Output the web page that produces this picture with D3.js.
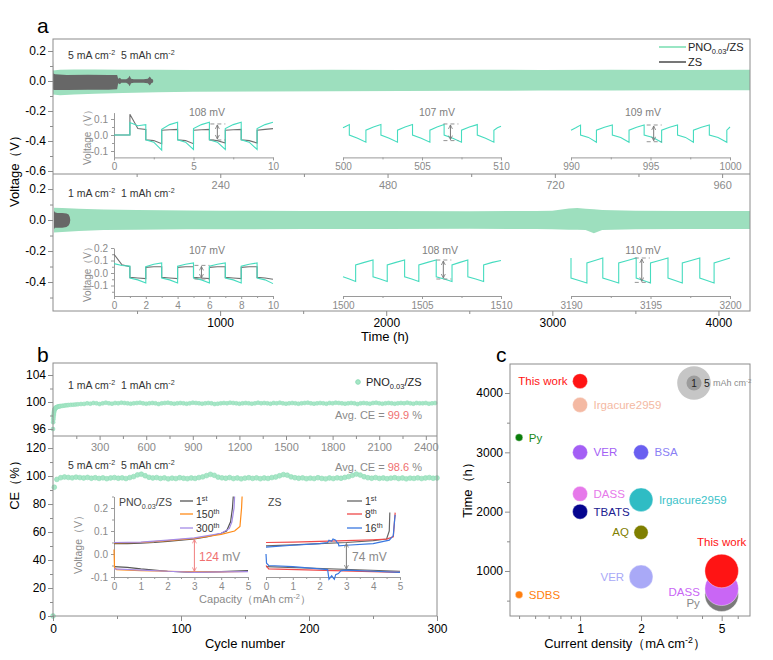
<!DOCTYPE html>
<html>
<head>
<meta charset="utf-8">
<script src="https://cdn.jsdelivr.net/npm/d3@7"></script>
<style>
  body { margin: 0; background: #fff; }
  svg text { font-family: "Liberation Sans", Arial, sans-serif; white-space: pre; }
</style>
</head>
<body>
<script>
// ---------- panel a : long cycling envelopes (time h, upper V, lower V) ----------
const aTopT  = [0, 10, 30, 60, 100, 150, 200, 300, 400, 500, 600, 700, 800, 900, 1000];
const aTopHi = [0.07, 0.075, 0.077, 0.076, 0.075, 0.075, 0.074, 0.074, 0.075, 0.074, 0.075, 0.074, 0.075, 0.074, 0.075];
const aTopLo = [-0.09, -0.095, -0.09, -0.085, -0.08, -0.075, -0.072, -0.07, -0.068, -0.066, -0.065, -0.064, -0.063, -0.062, -0.062];
const zsTopT  = [0, 0.5, 3, 20, 50, 80, 92, 93.5, 96, 98, 100, 105, 108, 110, 112, 116, 130, 136, 139, 141, 143, 144];
const zsTopHi = [0.14, 0.05, 0.045, 0.04, 0.042, 0.04, 0.04, 0.015, 0.022, 0.012, 0.012, 0.012, 0.02, 0.035, 0.015, 0.012, 0.012, 0.015, 0.03, 0.015, 0.012, 0];
const zsTopLo = [-0.05, -0.06, -0.06, -0.06, -0.058, -0.058, -0.055, -0.015, -0.022, -0.012, -0.012, -0.012, -0.02, -0.035, -0.015, -0.012, -0.012, -0.015, -0.03, -0.015, -0.012, 0];

const aBotT  = [0, 50, 150, 300, 500, 800, 1000, 1500, 2000, 2500, 2900, 3000, 3100, 3150, 3200, 3250, 3300, 3500, 3800, 4190];
const aBotHi = [0.08, 0.078, 0.072, 0.068, 0.065, 0.062, 0.06, 0.058, 0.058, 0.057, 0.058, 0.06, 0.075, 0.077, 0.072, 0.07, 0.065, 0.06, 0.058, 0.058];
const aBotLo = [-0.08, -0.078, -0.07, -0.065, -0.063, -0.06, -0.06, -0.058, -0.058, -0.057, -0.058, -0.06, -0.062, -0.062, -0.065, -0.085, -0.065, -0.06, -0.058, -0.058];
const zsBotT  = [0, 5, 20, 50, 75, 88, 95, 98];
const zsBotHi = [0.06, 0.05, 0.045, 0.045, 0.042, 0.035, 0.02, 0];
const zsBotLo = [-0.06, -0.05, -0.05, -0.05, -0.045, -0.035, -0.02, 0];

// ---------- panel a insets : segment bounds, value at start / middle / end ----------
const in5aT = [0, 1, 2, 3, 4, 5, 6, 7, 8, 9, 10];
const in5aZsA = [0, 0.13, -0.03, 0.03, -0.03, 0.03, -0.03, 0.03, -0.03, 0.03];
const in5aZsM = [0, 0.04, -0.035, 0.033, -0.035, 0.033, -0.035, 0.033, -0.035, 0.035];
const in5aZsB = [0, 0.035, -0.055, 0.035, -0.055, 0.035, -0.05, 0.035, -0.05, 0.04];
const in5aA = [0, 0.078, -0.03, 0.035, -0.03, 0.04, -0.03, 0.04, -0.03, 0.04];
const in5aM = [0, 0.058, -0.045, 0.065, -0.045, 0.065, -0.045, 0.065, -0.045, 0.065];
const in5aB = [0, 0.065, -0.095, 0.08, -0.09, 0.08, -0.09, 0.08, -0.09, 0.08];

const in5bT = [500, 500.4, 501.45, 502.4, 503.45, 504.4, 505.5, 506.4, 507.5, 508.5, 509.55, 510];
const in5bA = [0.045, 0.0, 0.03, 0.0, 0.03, 0.0, 0.03, 0.0, 0.03, 0.0, 0.03];
const in5bM = [0.055, -0.02, 0.05, -0.02, 0.05, -0.02, 0.05, -0.02, 0.05, -0.02, 0.045];
const in5bB = [0.065, -0.045, 0.065, -0.045, 0.065, -0.045, 0.065, -0.045, 0.065, -0.045, 0.055];

const in5cT = [990, 990.6, 991.6, 992.6, 993.65, 994.6, 995.7, 996.7, 997.7, 998.7, 999.8, 1000];
const in5cA = [0.03, 0.0, 0.03, 0.0, 0.03, 0.0, 0.03, 0.0, 0.03, 0.0, 0.03];
const in5cM = [0.045, -0.015, 0.048, -0.015, 0.048, -0.015, 0.048, -0.015, 0.048, -0.015, 0.04];
const in5cB = [0.062, -0.045, 0.062, -0.045, 0.062, -0.045, 0.062, -0.045, 0.062, -0.045, 0.05];

const in1aT = [0, 1, 2, 3, 4, 5, 6, 7, 8, 9, 10];
const in1aZsA = [0.15, -0.035, 0.045, -0.035, 0.045, -0.035, 0.045, -0.035, 0.045, -0.035];
const in1aZsM = [0.065, -0.04, 0.05, -0.04, 0.05, -0.04, 0.05, -0.04, 0.05, -0.04];
const in1aZsB = [0.05, -0.045, 0.05, -0.045, 0.05, -0.045, 0.05, -0.045, 0.05, -0.05];
const in1aA = [0.075, -0.04, 0.05, -0.04, 0.055, -0.04, 0.055, -0.04, 0.055, -0.04];
const in1aM = [0.06, -0.055, 0.07, -0.055, 0.07, -0.055, 0.07, -0.055, 0.07, -0.055];
const in1aB = [0.055, -0.08, 0.08, -0.08, 0.08, -0.08, 0.08, -0.08, 0.08, -0.085];

const in1bT = [1500, 1500.8, 1501.9, 1502.8, 1503.9, 1504.8, 1505.9, 1506.9, 1507.9, 1508.9, 1510];
const in1bA = [-0.03, 0.065, -0.03, 0.065, -0.03, 0.065, -0.03, 0.065, -0.03, 0.065];
const in1bM = [-0.048, 0.085, -0.048, 0.085, -0.048, 0.085, -0.048, 0.085, -0.048, 0.085];
const in1bB = [-0.068, 0.104, -0.068, 0.104, -0.068, 0.104, -0.068, 0.104, -0.068, 0.1];

const in1cT = [3190, 3190, 3191, 3192, 3193, 3194.1, 3195, 3196.1, 3197, 3198.1, 3199, 3200];
const in1cA = [0.12, -0.04, 0.08, -0.04, 0.08, -0.04, 0.08, -0.04, 0.08, -0.04, 0.08];
const in1cM = [0.12, -0.06, 0.1, -0.06, 0.1, -0.06, 0.1, -0.06, 0.1, -0.06, 0.1];
const in1cB = [0.12, -0.08, 0.12, -0.08, 0.12, -0.08, 0.12, -0.08, 0.12, -0.08, 0.12];

// ---------- panel b : coulombic efficiency ----------
const ce1HeadCycle = [0, 1, 2, 3, 4, 5, 6, 7, 8, 9, 10, 12, 14, 16, 18, 20, 23, 26, 30, 35, 40, 45, 50, 60, 70, 80, 90, 100, 115, 130, 145, 160, 180, 200];
const ce1HeadCE = [96.0, 97.0, 97.4, 97.7, 98.0, 98.2, 98.4, 98.55, 98.7, 98.8, 98.9, 99.0, 99.05, 99.1, 99.15, 99.2, 99.22, 99.25, 99.3, 99.33, 99.36, 99.38, 99.4, 99.43, 99.46, 99.5, 99.52, 99.55, 99.58, 99.6, 99.63, 99.66, 99.7, 99.72];
// every 20 cycles from 220 on
const ce1TailCE = [
  99.8, 99.75, 99.85, 99.8, 99.7, 99.8, 99.9, 99.8, 99.75, 99.85,
  99.8, 99.9, 99.85, 99.8, 99.75, 99.8, 99.85, 99.9, 99.8, 99.75,
  99.8, 99.85, 99.8, 99.7, 99.8, 99.85, 99.9, 99.8, 99.75, 99.8,
  99.85, 99.8, 99.75, 99.8, 99.9, 99.85, 99.8, 99.75, 99.8, 99.85,
  99.8, 99.7, 99.75, 99.8, 99.85, 99.8, 99.9, 99.85, 99.8, 99.75,
  99.8, 99.85, 99.8, 99.75, 99.8, 99.9, 99.8, 99.85, 99.8, 99.75,
  99.85, 99.8, 99.9, 99.8, 99.75, 99.8, 99.85, 99.8, 99.75, 99.8,
  99.85, 99.9, 99.8, 99.75, 99.8, 99.85, 99.8, 99.75, 99.85, 99.8,
  99.9, 99.85, 99.8, 99.75, 99.8, 99.85, 99.8, 99.7, 99.8, 99.85,
  99.8, 99.75, 99.85, 99.9, 99.8, 99.75, 99.8, 99.85, 99.8, 99.75,
  99.8, 99.85, 99.8, 99.9, 99.8, 99.75, 99.85, 99.8, 99.8, 99.85, 99.75, 99.8, 99.85];
const ce5HeadCycle = [0, 1];
const ce5HeadCE = [0, 92];
// every 3 cycles from 3 to 300
const ce5TailCE = [
  97.6, 98.8, 99.3, 99.0, 98.7, 99.2, 98.9, 98.6, 99.0, 98.4,
  98.8, 98.3, 98.7, 98.1, 98.6, 98.9, 98.4, 98.7, 98.2, 98.9,
  99.6, 100.8, 101.3, 100.2, 99.1, 98.6, 98.9, 98.3, 98.7, 98.0,
  98.5, 98.2, 98.8, 98.4, 98.1, 98.6, 98.3, 98.9, 99.4, 100.3,
  101.2, 100.5, 99.2, 98.7, 98.4, 98.9, 98.2, 98.6, 98.0, 98.5,
  98.8, 98.3, 98.7, 98.1, 98.6, 98.3, 98.9, 99.3, 100.2, 101.0,
  100.6, 99.4, 98.8, 98.4, 98.7, 98.1, 98.5, 98.2, 98.8, 98.3,
  98.0, 98.6, 98.2, 98.7, 98.4, 99.0, 99.6, 100.5, 101.4, 100.7,
  99.5, 98.8, 98.4, 98.9, 98.3, 98.6, 98.1, 98.5, 98.8, 98.2,
  98.6, 98.0, 98.5, 98.3, 98.7, 98.2, 98.6, 98.9, 98.4, 98.6];

// panel b insets: capacity (mAh cm-2) vs voltage (V)
const pno1ChCap = [0, 0.5, 1, 1.5, 2, 2.5, 3, 3.5, 4, 4.2, 4.35, 4.42, 4.45];
const pno1ChV   = [0.045, 0.045, 0.047, 0.05, 0.055, 0.06, 0.066, 0.075, 0.09, 0.1, 0.14, 0.2, 0.25];
const pno1DcCap = [0, 0.5, 1, 2, 3, 4, 5];
const pno1DcV   = [-0.055, -0.058, -0.065, -0.075, -0.08, -0.077, -0.072];
const pno150ChCap = [0, 1, 2, 3, 4, 4.5, 4.7, 4.76, 4.78];
const pno150ChV   = [0.048, 0.05, 0.058, 0.068, 0.085, 0.1, 0.12, 0.2, 0.25];
const pno150DcCap = [0, 0.02, 0.1, 1, 2, 3, 4, 5];
const pno150DcV   = [0.02, -0.06, -0.068, -0.072, -0.075, -0.078, -0.078, -0.076];
const pno300ChCap = [0, 1, 2, 3, 4, 4.3, 4.4, 4.48, 4.5];
const pno300ChV   = [0.05, 0.052, 0.06, 0.07, 0.09, 0.11, 0.14, 0.2, 0.25];
const pno300DcCap = [0, 1, 2, 3, 4, 5];
const pno300DcV   = [-0.065, -0.07, -0.075, -0.08, -0.078, -0.077];
const zs1ChCap = [0, 1, 2, 3, 4, 4.5, 4.6, 4.62];
const zs1ChV   = [0.035, 0.04, 0.045, 0.05, 0.058, 0.065, 0.1, 0.18];
const zs1DcCap = [0, 5];
const zs1DcV   = [-0.055, -0.075];
const zs8ChCap = [0, 1, 2, 3, 4, 4.5, 4.75, 4.8, 4.82];
const zs8ChV   = [0.05, 0.052, 0.055, 0.058, 0.062, 0.065, 0.075, 0.15, 0.18];
const zs8DcCap = [0, 0.1, 5];
const zs8DcV   = [-0.05, -0.065, -0.08];
const zs16ChCap = [0, 1, 2, 2.3, 2.35, 2.45, 2.5, 2.6, 2.65, 2.7, 2.72, 3, 4, 4.6, 4.75, 4.8, 4.82];
const zs16ChV   = [0.03, 0.038, 0.045, 0.05, 0.06, 0.055, 0.065, 0.06, 0.05, 0.045, 0.035, 0.038, 0.045, 0.06, 0.08, 0.15, 0.17];
const zs16DcCap = [0, 0.02, 0.1, 1, 2, 2.3, 2.35, 2.45, 2.55, 2.6, 2.7, 2.8, 3, 4, 5];
const zs16DcV   = [0.0, -0.04, -0.05, -0.055, -0.065, -0.068, -0.11, -0.095, -0.11, -0.09, -0.085, -0.072, -0.07, -0.075, -0.08];

// ---------- panel c : literature comparison ----------
const cLabel = ['Py', 'DASS', 'This work', 'This work', 'Irgacure2959', 'Py', 'VER', 'BSA', 'DASS', 'Irgacure2959', 'TBATS', 'AQ', 'VER', 'SDBS'];
const cCurrent = [5, 5, 5, 1, 1, 0.5, 1, 2, 1, 2, 1, 2, 2, 0.5];
const cTime = [600, 700, 1000, 4200, 3800, 3250, 3000, 3000, 2300, 2200, 2000, 1650, 900, 600];
const cCapacity = [5, 5, 5, 1, 1, 0.25, 1, 1, 1, 2.5, 1, 0.9, 2.5, 0.25];

// styles
const cFill = ['#7a7a7a', '#c966f5', '#ff1414', '#ff1414', '#f4b9a3', '#0a7d0a', '#a45ff5', '#6a5ff0', '#e679ea', '#2fbcc4', '#05058f', '#7f7f00', '#a9a9f7', '#ff7f0f'];
const cText = ['#8a8a8a', '#c966f5', '#ff1414', '#ff1414', '#f4b9a3', '#1a8a1a', '#a45ff5', '#8a80f5', '#e679ea', '#3cc2c9', '#202090', '#7f7f00', '#a9a9f7', '#ff7f0f'];
const cSide = ['l', 'l', 't', 'l', 'r', 'r', 'r', 'r', 'r', 'r', 'r', 'l', 'l', 'r'];

const FONT = '"Liberation Sans", Arial, sans-serif';
const FRAME = '#8c8c8c';
const GREEN_BAND = '#9ddfbe';
const GRAY_BAND = '#676767';
const WAVE_GREEN = '#46dcbf';
const WAVE_GRAY = '#707070';
const INSET_AX = '#9a9a9a';
const INSET_TXT = '#8a8a8a';
const DOT_GREEN = '#a6e6c6';

let svg = d3.select('body').append('svg').attr('width', 773).attr('height', 660);

let defs = svg.append('defs');
[['ahGray', '#7a7a7a'], ['ahPink', '#f07f7f']].forEach(function(m){
  defs.append('marker').attr('id', m[0]).attr('viewBox', '0 0 10 10')
    .attr('refX', 9).attr('refY', 5).attr('markerWidth', 5).attr('markerHeight', 5)
    .attr('orient', 'auto-start-reverse')
    .append('path').attr('d', 'M1,1 L9,5 L1,9').attr('fill', 'none')
    .attr('stroke', m[1]).attr('stroke-width', 1.6);
});

function fmt1(v){ return v.toFixed(1); }

// text with sub / superscripts; parts are strings or [text, 'sup'|'sub'|null, colour]
function rich(parent, x, y, parts, size, fill, anchor){
  let t = parent.append('text').attr('x', x).attr('y', y)
    .attr('font-size', size).attr('fill', fill).attr('text-anchor', anchor || 'start');
  let shift = 0;
  parts.forEach(function(p){
    let s = typeof p === 'string' ? p : p[0];
    let kind = typeof p === 'string' ? null : p[1];
    let col = typeof p === 'string' ? null : p[2];
    let target = kind === 'sup' ? -size * 0.38 : kind === 'sub' ? size * 0.28 : 0;
    let ts = t.append('tspan').attr('dy', target - shift).text(s);
    if (kind) ts.attr('font-size', size * 0.68);
    if (col) ts.attr('fill', col);
    shift = target;
  });
  return t;
}

function vtext(x, y, parts, size, fill){
  let g = svg.append('g').attr('transform', 'translate(' + x + ',' + y + ') rotate(-90)');
  return rich(g, 0, 0, parts, size, fill, 'middle');
}

function axis(maker, scale, x, y, major, minor, fmt, o){
  o = o || {};
  let g = svg.append('g').attr('transform', 'translate(' + x + ',' + y + ')')
    .call(maker(scale).tickValues(major).tickSize(o.len || 5).tickSizeOuter(0)
      .tickPadding(o.pad == null ? 2 : o.pad).tickFormat(fmt));
  if (!o.domain) g.select('.domain').remove();
  g.selectAll('path, line').attr('stroke', o.stroke || FRAME);
  g.selectAll('text').attr('font-size', o.size || 12).attr('fill', o.fill || '#000').attr('font-family', FONT);
  if (minor){
    let m = svg.append('g').attr('transform', 'translate(' + x + ',' + y + ')')
      .call(maker(scale).tickValues(minor).tickSize(o.mlen || 3).tickSizeOuter(0).tickFormat(''));
    m.select('.domain').remove();
    m.selectAll('line').attr('stroke', o.stroke || FRAME);
  }
  return g;
}

function band(xs, ys, t, hi, lo, color){
  let rows = t.map(function(d, i){ return [d, hi[i], lo[i]]; });
  svg.append('path').datum(rows)
    .attr('d', d3.area().x(d => xs(d[0])).y0(d => ys(d[2])).y1(d => ys(d[1])))
    .attr('fill', color);
}

function wave(xs, ys, segT, a, m, b, color){
  let pts = [];
  for (let i = 0; i < a.length; i++){
    let t0 = segT[i], t1 = segT[i + 1];
    pts.push([t0, a[i]], [(t0 + t1) / 2, m[i]], [t1, b[i]]);
  }
  svg.append('path').datum(pts)
    .attr('d', d3.line().x(d => xs(d[0])).y(d => ys(d[1])))
    .attr('fill', 'none').attr('stroke', color).attr('stroke-width', 1.1);
}

function curve(xs, ys, cap, v, color){
  let pts = cap.map((c, i) => [c, v[i]]);
  svg.append('path').datum(pts)
    .attr('d', d3.line().x(d => xs(d[0])).y(d => ys(d[1])))
    .attr('fill', 'none').attr('stroke', color).attr('stroke-width', 1.2);
}

// overpotential marker: dashed guides + double arrow
function gap(xs, ys, t, hi, lo, label, lx, ly, color, marker){
  let x = xs(t);
  [hi, lo].forEach(function(v){
    svg.append('line').attr('x1', x - 7).attr('x2', x + 8).attr('y1', ys(v)).attr('y2', ys(v))
      .attr('stroke', '#888').attr('stroke-dasharray', '4,3').attr('stroke-width', 0.9);
  });
  svg.append('line').attr('x1', x).attr('x2', x).attr('y1', ys(hi) + 1).attr('y2', ys(lo) - 1)
    .attr('stroke', color || '#7a7a7a').attr('stroke-width', 1)
    .attr('marker-start', 'url(#' + (marker || 'ahGray') + ')')
    .attr('marker-end', 'url(#' + (marker || 'ahGray') + ')');
  if (label) rich(svg, lx, ly, [label], 10.5, '#808080', 'middle');
}

// ================= panel a =================
let xA1 = d3.scaleLinear().domain([0, 1000]).range([53, 750]);
let yA1 = d3.scaleLinear().domain([-0.62, 0.28]).range([174, 39]);
let xA2 = d3.scaleLinear().domain([0, 4190]).range([54, 750]);
let yA2 = d3.scaleLinear().domain([-0.587, 0.297]).range([311, 174]);

band(xA1, yA1, aTopT, aTopHi, aTopLo, GREEN_BAND);
band(xA1, yA1, zsTopT, zsTopHi, zsTopLo, GRAY_BAND);
band(xA2, yA2, aBotT, aBotHi, aBotLo, GREEN_BAND);
band(xA2, yA2, zsBotT, zsBotHi, zsBotLo, GRAY_BAND);

svg.append('rect').attr('x', 53).attr('y', 39).attr('width', 697).attr('height', 272)
  .attr('fill', 'none').attr('stroke', FRAME);
svg.append('line').attr('x1', 53).attr('x2', 750).attr('y1', 174).attr('y2', 174).attr('stroke', FRAME);

axis(d3.axisLeft, yA1, 53, 0, [-0.6, -0.4, -0.2, 0, 0.2], [-0.5, -0.3, -0.1, 0.1], fmt1);
axis(d3.axisLeft, yA2, 53, 0, [-0.4, -0.2, 0, 0.2], [-0.5, -0.3, -0.1, 0.1], fmt1);
axis(d3.axisBottom, xA1, 0, 174, [240, 480, 720, 960], [120, 360, 600, 840], String, {fill: '#8a8a8a', size: 11, len: 4, pad: 3});
axis(d3.axisBottom, xA2, 0, 311, [1000, 2000, 3000, 4000], [500, 1500, 2500, 3500], String, {pad: 2});

svg.append('text').attr('x', 37).attr('y', 33).attr('font-size', 21).text('a');
vtext(19, 168, ['Voltage（V）'], 13, '#000');
rich(svg, 385, 341, ['Time (h)'], 13, '#000', 'middle');
rich(svg, 68, 59, ['5 mA cm', ['-2', 'sup'], '  5 mAh cm', ['-2', 'sup']], 10.5, '#333');
rich(svg, 68, 197, ['1 mA cm', ['-2', 'sup'], '  1 mAh cm', ['-2', 'sup']], 10.5, '#333');

// legend
svg.append('line').attr('x1', 659).attr('x2', 686).attr('y1', 47).attr('y2', 47).attr('stroke', '#7fe0b5').attr('stroke-width', 1.6);
rich(svg, 688, 51, ['PNO', ['0.03', 'sub'], '/ZS'], 11, '#222');
svg.append('line').attr('x1', 659).attr('x2', 686).attr('y1', 62).attr('y2', 62).attr('stroke', '#555').attr('stroke-width', 1.6);
rich(svg, 688, 66, ['ZS'], 11, '#222');

// insets (5 mA cm-2 row)
let inX = [[114, 273], [343, 501], [571, 730]];
let yTi = d3.scaleLinear().domain([-0.14, 0.14]).range([157.4, 112.6]);
let x5a = d3.scaleLinear().domain([0, 10]).range(inX[0]);
let x5b = d3.scaleLinear().domain([500, 510]).range(inX[1]);
let x5c = d3.scaleLinear().domain([990, 1000]).range(inX[2]);
let inOpt = {domain: true, stroke: INSET_AX, fill: INSET_TXT, size: 10, len: 3, mlen: 2, pad: 3};
axis(d3.axisBottom, x5a, 0, 157.4, [0, 5, 10], [2.5, 7.5], String, inOpt);
axis(d3.axisBottom, x5b, 0, 157.4, [500, 505, 510], [502.5, 507.5], String, inOpt);
axis(d3.axisBottom, x5c, 0, 157.4, [990, 995, 1000], [992.5, 997.5], String, inOpt);
axis(d3.axisLeft, yTi, 114, 0, [-0.1, 0, 0.1], [-0.05, 0.05], fmt1, inOpt);
vtext(91, 135, ['Voltage（V）'], 10, INSET_TXT);
wave(x5a, yTi, in5aT, in5aZsA, in5aZsM, in5aZsB, WAVE_GRAY);
wave(x5a, yTi, in5aT, in5aA, in5aM, in5aB, WAVE_GREEN);
wave(x5b, yTi, in5bT, in5bA, in5bM, in5bB, WAVE_GREEN);
wave(x5c, yTi, in5cT, in5cA, in5cM, in5cB, WAVE_GREEN);
gap(x5a, yTi, 6.5, 0.069, -0.031, '108 mV', 207, 116);
gap(x5b, yTi, 506.8, 0.069, -0.035, '107 mV', 437, 116);
gap(x5c, yTi, 995.2, 0.0625, -0.042, '109 mV', 643, 116);

// insets (1 mA cm-2 row)
let yBi = d3.scaleLinear().domain([-0.184, 0.2]).range([296, 248]);
let x1a = d3.scaleLinear().domain([0, 10]).range(inX[0]);
let x1b = d3.scaleLinear().domain([1500, 1510]).range(inX[1]);
let x1c = d3.scaleLinear().domain([3190, 3200]).range(inX[2]);
axis(d3.axisBottom, x1a, 0, 296, [0, 2, 4, 6, 8, 10], [1, 3, 5, 7, 9], String, inOpt);
axis(d3.axisBottom, x1b, 0, 296, [1500, 1505, 1510], [1502.5, 1507.5], String, inOpt);
axis(d3.axisBottom, x1c, 0, 296, [3190, 3195, 3200], [3192.5, 3197.5], String, inOpt);
axis(d3.axisLeft, yBi, 114, 0, [-0.1, 0, 0.1, 0.2], [-0.15, -0.05, 0.05, 0.15], fmt1, inOpt);
vtext(91, 272, ['Voltage（V）'], 10, INSET_TXT);
wave(x1a, yBi, in1aT, in1aZsA, in1aZsM, in1aZsB, WAVE_GRAY);
wave(x1a, yBi, in1aT, in1aA, in1aM, in1aB, WAVE_GREEN);
wave(x1b, yBi, in1bT, in1bA, in1bM, in1bB, WAVE_GREEN);
wave(x1c, yBi, in1cT, in1cA, in1cM, in1cB, WAVE_GREEN);
gap(x1a, yBi, 5.5, 0.061, -0.048, '107 mV', 207, 254);
gap(x1b, yBi, 1506.35, 0.104, -0.048, '108 mV', 440, 254);
gap(x1c, yBi, 3194.45, 0.12, -0.075, '110 mV', 643, 254);

// ================= panel b =================
let xB1 = d3.scaleLinear().domain([0, 2472]).range([53, 437]);
let yB1 = d3.scaleLinear().domain([94.96, 105.78]).range([436, 363]);
let xB2 = d3.scaleLinear().domain([0, 300]).range([53, 437]);
let yB2 = d3.scaleLinear().domain([0, 128.6]).range([616, 436]);

let ce1Cycle = ce1HeadCycle.concat(d3.range(220, 220 + 20 * ce1TailCE.length, 20));
let ce1 = ce1HeadCE.concat(ce1TailCE);
let ce5Cycle = ce5HeadCycle.concat(d3.range(3, 3 + 3 * ce5TailCE.length, 3));
let ce5 = ce5HeadCE.concat(ce5TailCE);

svg.append('g').selectAll('circle').data(ce1Cycle).join('circle')
  .attr('cx', d => xB1(d)).attr('cy', (d, i) => yB1(ce1[i])).attr('r', 2)
  .attr('fill', DOT_GREEN).attr('stroke', '#8fdcb6').attr('stroke-width', 0.5);
svg.append('g').selectAll('circle').data(ce5Cycle).join('circle')
  .attr('cx', d => xB2(d)).attr('cy', (d, i) => yB2(ce5[i])).attr('r', 2.4)
  .attr('fill', DOT_GREEN).attr('stroke', '#8fdcb6').attr('stroke-width', 0.6);

svg.append('rect').attr('x', 53).attr('y', 363).attr('width', 384).attr('height', 253)
  .attr('fill', 'none').attr('stroke', FRAME);
svg.append('line').attr('x1', 53).attr('x2', 437).attr('y1', 436).attr('y2', 436).attr('stroke', FRAME);

axis(d3.axisLeft, yB1, 53, 0, [96, 100, 104], [98, 102], String);
axis(d3.axisLeft, yB2, 53, 0, [0, 20, 40, 60, 80, 100, 120], [10, 30, 50, 70, 90, 110], String);
axis(d3.axisBottom, xB1, 0, 436, [300, 600, 900, 1200, 1500, 1800, 2100, 2400],
  [150, 450, 750, 1050, 1350, 1650, 1950, 2250], String, {fill: '#8a8a8a', size: 11, len: 4, pad: 3});
axis(d3.axisBottom, xB2, 0, 616, [0, 100, 200, 300], [50, 150, 250], String, {pad: 3});

svg.append('text').attr('x', 37).attr('y', 362).attr('font-size', 21).text('b');
vtext(19, 482, ['CE（%）'], 13, '#000');
rich(svg, 245, 648, ['Cycle number'], 13, '#000', 'middle');
rich(svg, 68, 389, ['1 mA cm', ['-2', 'sup'], '  1 mAh cm', ['-2', 'sup']], 10.5, '#333');
rich(svg, 68, 469, ['5 mA cm', ['-2', 'sup'], '  5 mAh cm', ['-2', 'sup']], 10.5, '#333');
rich(svg, 422, 419, ['Avg. CE = ', ['99.9', null, '#f07070'], ' %'], 11, '#8a8a8a', 'end');
rich(svg, 422, 471, ['Avg. CE = ', ['98.6', null, '#f07070'], ' %'], 11, '#8a8a8a', 'end');
svg.append('circle').attr('cx', 358).attr('cy', 382).attr('r', 2.3).attr('fill', DOT_GREEN).attr('stroke', '#8fdcb6');
rich(svg, 366, 386, ['PNO', ['0.03', 'sub'], '/ZS'], 11, '#222');

// insets of panel b
let xBL = d3.scaleLinear().domain([0, 5]).range([114, 248]);
let xBR = d3.scaleLinear().domain([0, 5]).range([266, 400]);
let yBI = d3.scaleLinear().domain([-0.1, 0.25]).range([577, 496.5]);
let bOpt = {domain: true, stroke: INSET_AX, fill: INSET_TXT, size: 10, len: 3, mlen: 2, pad: 3};
axis(d3.axisBottom, xBL, 0, 577, [0, 1, 2, 3, 4, 5], [0.5, 1.5, 2.5, 3.5, 4.5], String, bOpt);
axis(d3.axisBottom, xBR, 0, 577, [0, 1, 2, 3, 4, 5], [0.5, 1.5, 2.5, 3.5, 4.5], String, bOpt);
axis(d3.axisLeft, yBI, 114, 0, [-0.1, 0, 0.1, 0.2], [-0.05, 0.05, 0.15, 0.25], fmt1, bOpt);
vtext(82, 542, ['Voltage（V）'], 10.5, INSET_TXT);
rich(svg, 255, 603, ['Capacity（mAh cm', ['-2', 'sup'], '）'], 11, INSET_TXT, 'middle');

curve(xBL, yBI, pno1ChCap, pno1ChV, '#555');
curve(xBL, yBI, pno1DcCap, pno1DcV, '#555');
curve(xBL, yBI, pno150ChCap, pno150ChV, '#ff8c1a');
curve(xBL, yBI, pno150DcCap, pno150DcV, '#ff8c1a');
curve(xBL, yBI, pno300ChCap, pno300ChV, '#a58be6');
curve(xBL, yBI, pno300DcCap, pno300DcV, '#a58be6');
curve(xBR, yBI, zs1ChCap, zs1ChV, '#666');
curve(xBR, yBI, zs1DcCap, zs1DcV, '#666');
curve(xBR, yBI, zs8ChCap, zs8ChV, '#ef4a4a');
curve(xBR, yBI, zs8DcCap, zs8DcV, '#ef4a4a');
curve(xBR, yBI, zs16ChCap, zs16ChV, '#3a78e0');
curve(xBR, yBI, zs16DcCap, zs16DcV, '#3a78e0');

svg.append('line').attr('x1', xBL(3)).attr('x2', xBL(3)).attr('y1', yBI(0.068) + 1).attr('y2', yBI(-0.08) - 1)
  .attr('stroke', '#f07f7f').attr('marker-start', 'url(#ahPink)').attr('marker-end', 'url(#ahPink)');
rich(svg, 199, 561, [['124', null, '#f07070'], ' mV'], 12, '#8a8a8a');
svg.append('line').attr('x1', xBR(3)).attr('x2', xBR(3)).attr('y1', yBI(0.05) + 1).attr('y2', yBI(-0.07) - 1)
  .attr('stroke', '#7a7a7a').attr('marker-start', 'url(#ahGray)').attr('marker-end', 'url(#ahGray)');
rich(svg, 352, 561, ['74 mV'], 12, '#8a8a8a');

rich(svg, 119, 506, ['PNO', ['0.03', 'sub'], '/ZS'], 10.5, '#444');
rich(svg, 268, 506, ['ZS'], 10.5, '#444');
[['1', 'st', '#555', 501], ['150', 'th', '#ff8c1a', 514], ['300', 'th', '#a58be6', 528]].forEach(function(l){
  svg.append('line').attr('x1', 180).attr('x2', 193).attr('y1', l[3]).attr('y2', l[3]).attr('stroke', l[2]).attr('stroke-width', 1.3);
  rich(svg, 196, l[3] + 4, [l[0], [l[1], 'sup']], 10.5, '#333');
});
[['1', 'st', '#666', 501], ['8', 'th', '#ef4a4a', 514], ['16', 'th', '#3a78e0', 528]].forEach(function(l){
  svg.append('line').attr('x1', 347).attr('x2', 362).attr('y1', l[3]).attr('y2', l[3]).attr('stroke', l[2]).attr('stroke-width', 1.3);
  rich(svg, 365, l[3] + 4, [l[0], [l[1], 'sup']], 10.5, '#333');
});

// ================= panel c =================
let xC = d3.scaleLog().domain([0.451, 6.9]).range([510, 750]);
let yC = d3.scaleLinear().domain([241, 4489]).range([616, 364]);
let rC = d3.scaleSqrt().domain([0, 5]).range([0, 16.8]);

svg.append('rect').attr('x', 510).attr('y', 364).attr('width', 240).attr('height', 252)
  .attr('fill', 'none').attr('stroke', FRAME);
axis(d3.axisLeft, yC, 510, 0, [1000, 2000, 3000, 4000], [500, 1500, 2500, 3500], String);
axis(d3.axisBottom, xC, 0, 616, [1, 2, 5], [0.5, 0.6, 0.7, 0.8, 0.9, 3, 4, 6], String, {pad: 3});

svg.append('g').selectAll('circle').data(cLabel).join('circle')
  .attr('cx', (d, i) => xC(cCurrent[i])).attr('cy', (d, i) => yC(cTime[i]))
  .attr('r', (d, i) => rC(cCapacity[i]))
  .attr('fill', (d, i) => cFill[i]).attr('stroke', '#fff').attr('stroke-width', 0.4);

cLabel.forEach(function(lab, i){
  let cx = xC(cCurrent[i]), cy = yC(cTime[i]), r = rC(cCapacity[i]);
  let t = svg.append('text').attr('font-size', 11.5).attr('fill', cText[i]).text(lab);
  if (cSide[i] === 'l') t.attr('x', cx - r - 5).attr('y', cy + 4).attr('text-anchor', 'end');
  else if (cSide[i] === 'r') t.attr('x', cx + r + 6).attr('y', cy + 4);
  else t.attr('x', cx).attr('y', cy - r - 8).attr('text-anchor', 'middle');
});
// the two overlapping labels at 5 mA cm-2 sit a bit apart
svg.selectAll('text').filter(function(){ return this.textContent === 'DASS' && +this.getAttribute('x') > 650; })
  .attr('y', 596);
svg.selectAll('text').filter(function(){ return this.textContent === 'Py' && +this.getAttribute('x') > 650; })
  .attr('y', 607);

// size key
svg.append('circle').attr('cx', 694).attr('cy', 383).attr('r', rC(5)).attr('fill', '#c6c6c6');
svg.append('circle').attr('cx', 694).attr('cy', 383).attr('r', rC(1)).attr('fill', '#9c9c9c');
rich(svg, 694, 387, ['1'], 10, '#222', 'middle');
rich(svg, 704, 387, ['5'], 10.5, '#222');
rich(svg, 713, 386, ['mAh cm', ['-2', 'sup']], 9, '#8a8a8a');

svg.append('text').attr('x', 496).attr('y', 362).attr('font-size', 21).text('c');
vtext(472, 487, ['Time（h）'], 13, '#000');
rich(svg, 625, 648, ['Current density（mA cm', ['-2', 'sup'], '）'], 13, '#000', 'middle');
</script>
</body>
</html>
